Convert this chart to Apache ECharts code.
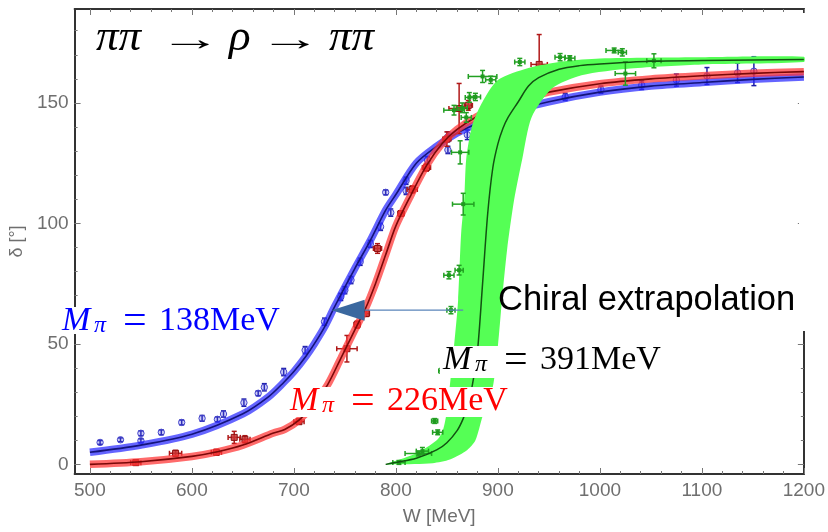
<!DOCTYPE html>
<html>
<head>
<meta charset="utf-8">
<script src="https://cdn.jsdelivr.net/npm/echarts@6/dist/echarts.min.js"></script>
<style>
  html, body { margin: 0; background: #fff; }
  #chart { width: 828px; height: 532px; }
</style>
</head>
<body>
<div id="chart"></div>
<script>
// axis ticks
const xTicks = [500, 600, 700, 800, 900, 1000, 1100, 1200];
const xMinorTicks = [500, 520, 540, 560, 580, 600, 620, 640, 660, 680, 700, 720, 740, 760, 780, 800, 820, 840, 860, 880, 900, 920, 940, 960, 980, 1000, 1020, 1040, 1060, 1080, 1100, 1120, 1140, 1160, 1180, 1200];
const yTicks = [0, 50, 100, 150];
const yMinorTicks = [0, 10, 20, 30, 40, 50, 60, 70, 80, 90, 100, 110, 120, 130, 140, 150, 160, 170, 180];

// fit curves [W, delta]
const fit138 = [[500, 5], [550, 8], [600, 12.5], [650, 21], [675, 28], [690, 34], [700, 38.5], [712, 45], [720, 50], [730, 57], [740, 65.5], [760, 81.5], [775, 93], [790, 105.5], [800, 112], [820, 125], [840, 132], [860, 137.5], [880, 141.5], [900, 145], [950, 150.5], [1000, 154.5], [1050, 157], [1100, 158.5], [1150, 159.8], [1200, 160.8]];
const fit226 = [[500, 0], [550, 1.1], [600, 3.3], [625, 5.2], [650, 8], [680, 13], [691, 14.5], [705, 18.4], [720, 25], [733, 33], [746, 44], [760, 56], [770, 64.5], [780, 75], [790, 87], [800, 99], [815, 112], [830, 124], [845, 133], [860, 139], [880, 144.5], [900, 148.5], [925, 151.5], [950, 154.5], [1000, 158], [1050, 160], [1100, 161.3], [1150, 162.3], [1200, 163]];
const fit391 = [[790, 0], [800, 0.8], [820, 2.5], [840, 6], [850, 9], [860, 14], [866, 19], [870, 24], [875, 33], [880, 47], [885, 75], [890, 104], [895, 123], [900, 133], [905, 139.5], [910, 144], [920, 150.5], [930, 157], [940, 160.5], [960, 164], [980, 165.5], [1000, 166.2], [1050, 167.3], [1100, 167.6], [1150, 167.8], [1200, 168]];
// green error band, left (upper) and right (lower) edge
const band391Hi = [[790, 0], [820, 4.5], [840, 10], [846, 14], [850, 22], [853, 33], [857, 49], [861, 68], [864, 96], [867, 110], [869, 127], [875, 141], [885, 150.5], [900, 159.5], [930, 164.5], [965, 167.3], [1000, 168.5], [1100, 169], [1200, 169.2]];
const band391Lo = [[800, 0], [836, 0.5], [853, 2], [870, 6], [878, 10], [885, 20], [895, 32], [900, 49], [904, 68], [909, 89], [916, 110], [924, 127], [933, 144], [953, 156], [982, 161.5], [1030, 164.3], [1100, 166], [1200, 167]];

// lattice points [W, delta, W error, delta error]
const pts138 = [[510, 9.1, 0, 0.8], [530, 10.2, 0, 0.8], [550, 9.8, 0, 0.8], [550, 12.9, 0, 1], [570, 13.3, 0, 1], [590, 17.4, 0, 1], [610, 19.1, 0, 1.2], [625, 18.7, 0, 1], [631, 20.9, 0, 1.3], [651, 25.6, 0, 1.5], [665, 29.5, 0, 1], [671, 32, 0, 1.5], [690, 38.3, 0, 1.5], [711, 47.4, 0, 1.5], [730, 59.2, 0, 1.5], [746, 69.5, 0, 1.5], [750, 72.3, 0, 1.5], [756, 76.5, 0, 1.5], [765, 84.1, 0, 1.5], [775, 91.5, 0, 1.5], [785, 98.6, 0, 1.5], [795, 104.5, 0, 1.5], [790, 112.9, 0, 1], [810, 117.7, 0, 1.5], [810, 113.5, 0, 1.5], [831, 126.3, 0, 1.5], [851, 136, 0, 2], [851, 130.5, 0, 1.5], [870, 136.8, 0, 2], [890, 142.5, 0, 2], [911, 146, 0, 2.5], [936, 149.8, 0, 1.5], [966, 152.5, 0, 1.5], [1001, 155.5, 0, 1.5], [1041, 157.4, 0, 1.8], [1075, 159.5, 0, 2.5], [1105, 161.2, 0, 3.5], [1135, 162.5, 0, 4], [1151, 163.2, 0, 6]];
const pts226 = [[545, 0.7, 5, 1], [584, 4.6, 6, 1.2], [624, 5, 5, 1.2], [641.5, 11.2, 6, 2.5], [652, 10.4, 5, 1.5], [705, 17.7, 5, 0.8], [752, 48, 10, 5.5], [762, 58, 3, 1.5], [771, 62.6, 3, 1.2], [782, 89.6, 4, 2], [805, 104.1, 3, 1], [816, 114.1, 5, 1.5], [830, 123.2, 4, 1.5], [850, 135, 4, 3], [862, 147.7, 10, 10.4], [871, 149, 4, 2], [910, 153.2, 4, 4], [930, 158, 4, 2], [940.5, 166, 8, 12.4]];
const pts391 = [[803, 0.8, 6, 0.8], [822, 4.5, 13, 1], [826, 5.5, 6, 1.5], [841, 13.3, 5, 1], [838, 18, 3, 1], [845, 38.8, 3, 1], [854, 64, 4, 1.5], [852, 78.5, 5, 1.5], [862, 80.6, 4, 2], [866, 108, 10.5, 4.5], [863, 129.5, 8.5, 4.8], [857, 147, 10, 2], [865, 148, 5, 2], [869, 144, 5, 2], [872, 152.3, 4, 2], [878, 152.5, 5, 1.5], [885, 161, 14, 2.5], [893, 159.6, 5, 1.5], [921.5, 167, 5, 1.5], [961, 169, 5, 1.5], [970.5, 168.6, 5, 1], [1014, 171.8, 8, 1], [1022, 171, 4, 1.5], [1025, 162.2, 10, 4.8], [1053, 167.5, 7, 2.9]];

// chiral extrapolation arrow, from 391 curve to physical curve
const arrowFrom = [866, 64];
const arrowTo = [737, 64];

const X_MIN = 485, X_MAX = 1200, Y_MIN = -4, Y_MAX = 189;
const tickFont = { color: '#6f6f6f', fontSize: 19, fontFamily: 'Liberation Sans', formatter: v => String(v) };
const frame = { show: true, onZero: false, lineStyle: { color: '#333', width: 2 } };

function xAxis(pos, ticks, len, withLine, withLabels) {
  return {
    type: 'value', min: X_MIN, max: X_MAX, position: pos,
    axisLine: withLine ? frame : { show: false, onZero: false },
    axisTick: { show: true, inside: true, length: len, customValues: ticks, lineStyle: { color: '#777' } },
    axisLabel: withLabels ? Object.assign({ customValues: ticks, margin: 7 }, tickFont) : { show: false },
    splitLine: { show: false }
  };
}
function yAxis(pos, ticks, len, withLine, withLabels) {
  return {
    type: 'value', min: Y_MIN, max: Y_MAX, position: pos,
    axisLine: withLine ? frame : { show: false, onZero: false },
    axisTick: { show: true, inside: true, length: len, customValues: ticks, lineStyle: { color: '#777' } },
    axisLabel: withLabels ? Object.assign({ customValues: ticks, margin: 6 }, tickFont) : { show: false },
    splitLine: { show: false }
  };
}

function errorBars(barColor, marker) {
  return function (params, api) {
    const w = api.value(0), d = api.value(1), ew = api.value(2), ed = api.value(3);
    const c = api.coord([w, d]);
    const top = api.coord([w, d + ed])[1], bot = api.coord([w, d - ed])[1];
    const st = { stroke: barColor, lineWidth: 1.5 };
    const cap = 2.5;
    const kids = [
      { type: 'line', shape: { x1: c[0], y1: top, x2: c[0], y2: bot }, style: st },
      { type: 'line', shape: { x1: c[0] - cap, y1: top, x2: c[0] + cap, y2: top }, style: st },
      { type: 'line', shape: { x1: c[0] - cap, y1: bot, x2: c[0] + cap, y2: bot }, style: st }
    ];
    if (ew > 0) {
      const l = api.coord([w - ew, d])[0], r = api.coord([w + ew, d])[0];
      kids.push({ type: 'line', shape: { x1: l, y1: c[1], x2: r, y2: c[1] }, style: st });
      kids.push({ type: 'line', shape: { x1: l, y1: c[1] - cap, x2: l, y2: c[1] + cap }, style: st });
      kids.push({ type: 'line', shape: { x1: r, y1: c[1] - cap, x2: r, y2: c[1] + cap }, style: st });
    }
    kids.push(marker(c));
    return { type: 'group', children: kids };
  };
}

const circleMark = c => ({ type: 'circle', shape: { cx: c[0], cy: c[1], r: 3.2 }, style: { fill: 'rgba(90,90,230,0.3)', stroke: '#4545cc', lineWidth: 1 } });
const squareMark = c => ({ type: 'rect', shape: { x: c[0] - 3, y: c[1] - 3, width: 6, height: 6 }, style: { fill: 'rgba(200,50,50,0.85)', stroke: '#8e1010', lineWidth: 1 } });
const dotMark = c => ({ type: 'rect', shape: { x: c[0] - 2, y: c[1] - 2, width: 4, height: 4 }, style: { fill: '#1f9a1f' } });

function fitLine(name, data, color, width, z) {
  return {
    name, type: 'line', data, z, showSymbol: false, smooth: 0.3,
    lineStyle: { color, width }, silent: true
  };
}

const chart = echarts.init(document.getElementById('chart'));
chart.setOption({
  animation: false,
  grid: { left: 68, right: 22, top: 9, bottom: 58 },
  xAxis: [
    Object.assign(xAxis('bottom', xTicks, 6, true, true), {
      name: 'W [MeV]', nameLocation: 'middle', nameGap: 33,
      nameTextStyle: { color: '#6f6f6f', fontSize: 19, fontFamily: 'Liberation Sans' }
    }),
    xAxis('bottom', xMinorTicks, 3, false, false),
    xAxis('top', xTicks, 6, true, false),
    xAxis('top', xMinorTicks, 3, false, false)
  ],
  yAxis: [
    Object.assign(yAxis('left', yTicks, 6, true, true), {
      name: 'δ [°]', nameLocation: 'middle', nameGap: 42,
      nameTextStyle: { color: '#6f6f6f', fontSize: 18, fontFamily: 'Liberation Sans' }
    }),
    yAxis('left', yMinorTicks, 3, false, false),
    yAxis('right', yTicks, 6, true, false),
    yAxis('right', yMinorTicks, 3, false, false)
  ],
  series: [
    fitLine('band138', fit138, 'rgba(40,40,255,0.72)', 7.5, 2),
    fitLine('fit138', fit138, '#14147a', 1.6, 2),
    { name: 'pts138', type: 'custom', z: 2, data: pts138, encode: { x: 0, y: 1 }, renderItem: errorBars('#1c1ca8', circleMark) },
    fitLine('band226', fit226, 'rgba(255,50,50,0.72)', 7.5, 3),
    fitLine('fit226', fit226, '#7a0808', 1.6, 3),
    { name: 'pts226', type: 'custom', z: 3, data: pts226, encode: { x: 0, y: 1 }, renderItem: errorBars('#b01818', squareMark) },
    {
      name: 'band391', type: 'custom', z: 5, data: [[band391Hi[0][0], band391Hi[0][1]]], encode: { x: 0, y: 1 },
      renderItem: function (params, api) {
        const pts = band391Hi.map(p => api.coord(p)).concat(band391Lo.slice().reverse().map(p => api.coord(p)));
        return { type: 'polygon', shape: { points: pts, smooth: 0.25 }, style: { fill: '#55ff55' } };
      }
    },
    fitLine('fit391', fit391, '#125212', 1.5, 5),
    { name: 'pts391', type: 'custom', z: 5, data: pts391, encode: { x: 0, y: 1 }, renderItem: errorBars('#22a022', dotMark) }
  ]
});

const tip = chart.convertToPixel({ xAxisIndex: 0, yAxisIndex: 0 }, arrowTo);
const tail = chart.convertToPixel({ xAxisIndex: 0, yAxisIndex: 0 }, arrowFrom);
const headLen = 33, headHalf = 10.5;

const serif = 'Liberation Serif';
// M_pi = ...MeV label on a white box; left edge L, baseline B
function massLabel(L, B, value, color, boxBottom) {
  const t = (x, y, text, size, italic) => ({
    type: 'text', x, y, z: 10,
    style: { text, fill: color, fontFamily: serif, fontSize: size, fontStyle: italic ? 'italic' : 'normal', verticalAlign: 'middle' }
  });
  return [
    { type: 'rect', z: 9, shape: { x: L - 3, y: B - 26, width: 226, height: 26 + boxBottom }, style: { fill: '#fff' } },
    t(L, B - 12, 'M', 34, true),
    t(L + 32, B - 7, 'π', 24, true),
    t(L + 61, B - 11, '=', 42, false),
    t(L + 97, B - 12, value + 'MeV', 34, false)
  ];
}

// stretch the arrow glyph to the long math arrow of the title
const ctx = document.createElement('canvas').getContext('2d');
ctx.font = '34px "Liberation Serif"';
const arrowScale = 1.45 * 43 / ctx.measureText('→').width;

const greek = (x, text) => ({
  type: 'text', x, y: 38, z: 10,
  style: { text, fill: '#000', fontFamily: serif, fontStyle: 'italic', fontSize: 45, verticalAlign: 'middle' }
});
const arrowGlyph = x => ({
  type: 'text', x, y: 41, z: 10, scaleX: arrowScale,
  style: { text: '→', fill: '#000', fontFamily: serif, fontSize: 34, verticalAlign: 'middle' }
});

chart.setOption({
  graphic: [
    // right frame is hidden above the chiral label
    { type: 'rect', z: 1, shape: { x: 799, y: 13, width: 12, height: 318 }, style: { fill: '#fff' } },
    ...massLabel(62, 333, '138', '#0000ff', 1),
    ...massLabel(290, 413, '226', '#ff0000', 4),
    ...massLabel(443, 372, '391', '#000000', 6),
    greek(96, 'ππ'), arrowGlyph(159), greek(229, 'ρ'), arrowGlyph(259), greek(329, 'ππ'),
    {
      type: 'text', x: 498, y: 300, z: 10,
      style: { text: 'Chiral extrapolation', fontFamily: 'Liberation Sans', fontSize: 34.5, fill: '#000', verticalAlign: 'middle' }
    },
    { type: 'line', z: 8, shape: { x1: tail[0], y1: tail[1], x2: tip[0] + headLen, y2: tip[1] }, style: { stroke: '#5a84ba', lineWidth: 1.2 } },
    { type: 'polygon', z: 8, shape: { points: [[tip[0], tip[1]], [tip[0] + headLen, tip[1] - headHalf], [tip[0] + headLen, tip[1] + headHalf]] }, style: { fill: '#3b689f' } }
  ]
});
</script>
</body>
</html>
